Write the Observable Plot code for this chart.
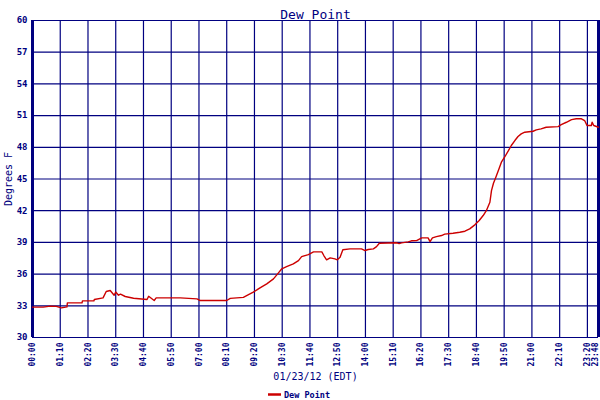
<!DOCTYPE html>
<html>
<head>
<meta charset="utf-8">
<script src="https://cdn.jsdelivr.net/npm/d3@7"></script>
<script src="https://cdn.jsdelivr.net/npm/@observablehq/plot@0.6"></script>
<style>
  html, body { margin: 0; padding: 0; background: #ffffff; }
  #chart { width: 600px; height: 400px; }
</style>
</head>
<body>
<div id="chart"></div>
<script>
const title = "Dew Point";
const yLabel = "Degrees F";
const xLabel = "01/23/12 (EDT)";
const seriesName = "Dew Point";

// minutes since midnight
const minutes = [0, 27, 45, 60, 73, 87, 88, 125, 126, 155, 156, 178, 186, 196, 206, 210, 217, 222, 234, 255,
  289, 293, 307, 312, 373, 415, 423, 490, 499, 532, 545, 557, 566, 574, 591, 608, 620, 629, 641, 658,
  671, 679, 696, 709, 730, 735, 742, 751, 763, 769, 776, 783, 801, 830, 839, 847, 860, 868, 875, 919,
  925, 931, 948, 956, 969, 982, 998, 1003, 1009, 1019, 1032, 1040, 1061, 1078, 1091, 1103, 1116, 1127, 1137, 1145,
  1154, 1158, 1163, 1169, 1177, 1183, 1191, 1200, 1208, 1217, 1225, 1233, 1242, 1263, 1271, 1283, 1296, 1326, 1334, 1347,
  1360, 1372, 1385, 1393, 1399, 1410, 1412, 1416, 1428];
const dewPoint = [32.87, 32.87, 32.97, 32.95, 32.8, 32.9, 33.28, 33.28, 33.47, 33.47, 33.6, 33.75, 34.35, 34.45, 34.0, 34.3, 34.0, 34.1, 33.88, 33.72,
  33.6, 33.9, 33.5, 33.75, 33.75, 33.66, 33.5, 33.5, 33.7, 33.8, 34.05, 34.29, 34.5, 34.7, 35.08, 35.55, 36.09, 36.5, 36.7, 36.97,
  37.28, 37.66, 37.85, 38.1, 38.1, 37.76, 37.35, 37.54, 37.44, 37.35, 37.6, 38.3, 38.39, 38.39, 38.23, 38.33, 38.39, 38.6, 38.92, 38.96,
  38.88, 38.96, 39.05, 39.15, 39.17, 39.43, 39.43, 39.08, 39.43, 39.55, 39.65, 39.78, 39.87, 39.96, 40.06, 40.28, 40.66, 41.07, 41.54, 42.0,
  42.8, 43.9, 44.6, 45.17, 45.96, 46.59, 47.06, 47.63, 48.17, 48.64, 49.02, 49.27, 49.43, 49.52, 49.65, 49.74, 49.9, 49.96, 50.15, 50.37,
  50.62, 50.7, 50.7, 50.53, 50.06, 50.06, 50.37, 50.06, 49.9];

const xTicks = [0, 70, 140, 210, 280, 350, 420, 490, 560, 630, 700, 770, 840, 910, 980, 1050, 1120, 1190, 1260, 1330, 1400];
const xEndTick = [1428];
const yTicks = [30, 33, 36, 39, 42, 45, 48, 51, 54, 57, 60];

const data = minutes.map((m, i) => ({m, v: dewPoint[i]}));
const navy = "#000080";
const red = "#cc0000";
const fmt = m => String(Math.floor(m / 60)).padStart(2, "0") + ":" + String(m % 60).padStart(2, "0");
const tickStyle = {tickFormat: fmt, tickRotate: -90, tickSize: 0, tickPadding: 5, fontSize: 8, fontWeight: "bold", label: null, fill: navy};

const plot = Plot.plot({
  width: 600,
  height: 400,
  marginTop: 20,
  marginLeft: 32,
  marginRight: 2,
  marginBottom: 63,
  style: {fontFamily: "DejaVu Sans Mono", color: navy, background: "#ffffff"},
  x: {domain: [0, 1428]},
  y: {domain: [30, 60]},
  marks: [
    Plot.gridX(xTicks.concat(xEndTick), {stroke: navy, strokeOpacity: 1, strokeWidth: 1.2}),
    Plot.gridY(yTicks, {stroke: navy, strokeOpacity: 1, strokeWidth: 1.2}),
    Plot.ruleX([0, 1428], {stroke: navy, strokeWidth: 3}),
    Plot.axisX(xTicks, tickStyle),
    Plot.axisX(xEndTick, {...tickStyle, dx: -3}),
    Plot.axisY(yTicks, {tickSize: 0, tickPadding: 5, fontSize: 9, fontWeight: "bold", label: null, fill: navy}),
    Plot.line(data, {x: "m", y: "v", stroke: red, strokeWidth: 1.4}),
    Plot.text([title], {frameAnchor: "top", dy: -11, fontSize: 13, fill: navy}),
    Plot.text([yLabel], {frameAnchor: "left", textAnchor: "middle", dx: -24, rotate: -90, fontSize: 10, fill: navy}),
    Plot.text([xLabel], {frameAnchor: "bottom", dy: 42, fontSize: 10, fill: navy})
  ]
});
document.getElementById("chart").appendChild(plot);

// legend
const svg = d3.select(plot);
const lg = svg.append("g");
lg.append("line").attr("x1", 268).attr("x2", 281).attr("y1", 394.5).attr("y2", 394.5)
  .attr("stroke", red).attr("stroke-width", 2.5);
lg.append("text").attr("x", 284).attr("y", 395).attr("dominant-baseline", "middle")
  .attr("text-anchor", "start")
  .attr("font-size", 8.5).attr("font-weight", "bold").attr("fill", navy)
  .attr("font-family", "DejaVu Sans Mono").text(seriesName);
</script>
</body>
</html>
